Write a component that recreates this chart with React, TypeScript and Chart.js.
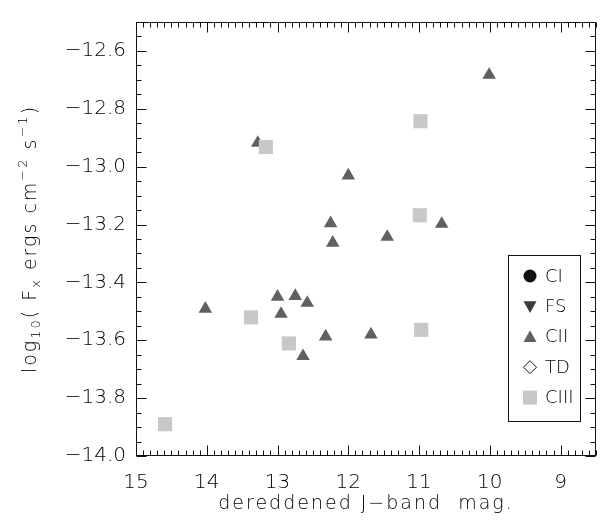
import React, { useEffect, useRef } from 'react';
import { Chart, registerables } from 'chart.js';

Chart.register(...registerables);

// ---- data ----
const SERIES_LABELS = ['CI', 'FS', 'CII', 'TD', 'CIII'];

const CI_MAG: number[] = [];
const CI_FX: number[] = [];
const FS_MAG: number[] = [];
const FS_FX: number[] = [];
const TD_MAG: number[] = [];
const TD_FX: number[] = [];

const CII_MAG = [10.01, 13.28, 12.0, 12.25, 10.68, 11.45, 12.22, 14.02, 13.0, 12.75, 12.58, 12.95, 12.32, 12.64, 11.68];
const CII_FX = [-12.683, -12.918, -13.031, -13.196, -13.198, -13.243, -13.263, -13.491, -13.45, -13.447, -13.471, -13.509, -13.587, -13.655, -13.58];

const CIII_MAG = [10.98, 13.165, 10.99, 13.375, 12.84, 10.97, 14.59];
const CIII_FX = [-12.843, -12.932, -13.168, -13.521, -13.611, -13.564, -13.89];

const X_TICKS = [15, 14, 13, 12, 11, 10, 9];
const Y_TICKS = [-14.0, -13.8, -13.6, -13.4, -13.2, -13.0, -12.8, -12.6];
const X_MIN = 8.5;
const X_MAX = 15;
const Y_MIN = -14.0;
const Y_MAX = -12.5;

const X_TITLE = 'dereddened J\u2212band  mag.';
// y title pieces: [text, kind] where kind: n = normal, sub = subscript, sup = superscript
const Y_TITLE_PARTS: [string, string][] = [
  ['log', 'n'], ['10', 'sub'], ['( F', 'n'], ['x', 'sub'], [' ergs cm', 'n'],
  ['\u22122', 'sup'], [' s', 'n'], ['\u22121', 'sup'], [')', 'n'],
];

const FONT_FAMILY = '"DejaVu Sans", sans-serif';
const WEIGHT = '200';
const INK = '#000';

const toPoints = (xs: number[], ys: number[]) => xs.map((x, i) => ({ x, y: ys[i] }));

// ---- plugins ----
const framePlugin = {
  id: 'frameTicks',
  afterDatasetsDraw(chart: any) {
    const { ctx, chartArea } = chart;
    const xs = chart.scales.x;
    const ys = chart.scales.y;
    const L = Math.round(chartArea.left) + 0.5;
    const R = Math.round(chartArea.right) - 0.5;
    const T = Math.round(chartArea.top) + 0.5;
    const B = Math.round(chartArea.bottom) - 0.5;
    ctx.save();
    ctx.strokeStyle = '#111';
    ctx.lineWidth = 1;
    ctx.strokeRect(L, T, R - L, B - T);
    ctx.beginPath();
    for (let i = Math.ceil(X_MIN * 10); i <= X_MAX * 10; i++) {
      const px = Math.round(xs.getPixelForValue(i / 10)) + 0.5;
      const len = i % 10 === 0 ? 10 : 5;
      ctx.moveTo(px, B);
      ctx.lineTo(px, B - len);
      ctx.moveTo(px, T);
      ctx.lineTo(px, T + len);
    }
    for (let i = Math.round(Y_MIN * 20); i <= Math.round(Y_MAX * 20); i++) {
      const py = Math.round(ys.getPixelForValue(i / 20)) + 0.5;
      const len = i % 4 === 0 ? 10 : 5;
      ctx.moveTo(L, py);
      ctx.lineTo(L + len, py);
      ctx.moveTo(R, py);
      ctx.lineTo(R - len, py);
    }
    ctx.stroke();
    ctx.restore();
  },
};

const titlesPlugin = {
  id: 'axisTitles',
  afterDraw(chart: any) {
    const { ctx, chartArea } = chart;
    ctx.save();
    ctx.fillStyle = INK;
    (ctx as any).letterSpacing = '2px';
    ctx.textBaseline = 'alphabetic';
    ctx.textAlign = 'left';
    // x title
    ctx.font = `${WEIGHT} 19px ${FONT_FAMILY}`;
    const cx = (chartArea.left + chartArea.right) / 2;
    const w = ctx.measureText(X_TITLE).width;
    ctx.fillText(X_TITLE, cx - w / 2, 509);
    // y title (rotated)
    const big = 19, small = 13;
    const fontOf = (k: string) => `${WEIGHT} ${k === 'n' ? big : small}px ${FONT_FAMILY}`;
    let total = 0;
    const widths = Y_TITLE_PARTS.map(([t, k]) => {
      ctx.font = fontOf(k);
      const ww = ctx.measureText(t).width;
      total += ww;
      return ww;
    });
    const cy = (chartArea.top + chartArea.bottom) / 2;
    ctx.translate(36, cy);
    ctx.rotate(-Math.PI / 2);
    let x = -total / 2;
    Y_TITLE_PARTS.forEach(([t, k], i) => {
      ctx.font = fontOf(k);
      const dy = k === 'sub' ? 4 : k === 'sup' ? -9 : 0;
      ctx.fillText(t, x, dy);
      x += widths[i];
    });
    ctx.restore();
  },
};

function drawMarker(ctx: CanvasRenderingContext2D, ds: any, x: number, y: number) {
  const s = ds.legendSize as number;
  ctx.save();
  ctx.fillStyle = ds.backgroundColor;
  ctx.strokeStyle = ds.borderColor;
  ctx.lineWidth = 1;
  ctx.beginPath();
  if (ds.pointStyle === 'circle') {
    ctx.arc(x, y, s, 0, Math.PI * 2);
    ctx.fill();
  } else if (ds.pointStyle === 'triangle') {
    const dir = ds.rotation === 180 ? -1 : 1;
    ctx.moveTo(x, y - dir * s);
    ctx.lineTo(x + s, y + dir * s * 0.8);
    ctx.lineTo(x - s, y + dir * s * 0.8);
    ctx.closePath();
    ctx.fill();
  } else if (ds.pointStyle === 'rectRot') {
    ctx.moveTo(x, y - s);
    ctx.lineTo(x + s, y);
    ctx.lineTo(x, y + s);
    ctx.lineTo(x - s, y);
    ctx.closePath();
    ctx.stroke();
  } else {
    ctx.rect(x - s, y - s, 2 * s, 2 * s);
    ctx.fill();
  }
  ctx.restore();
}

const legendPlugin = {
  id: 'boxLegend',
  afterDraw(chart: any) {
    const { ctx } = chart;
    const bx = 508.5, by = 255.5, bw = 72, bh = 166;
    ctx.save();
    ctx.fillStyle = '#fff';
    ctx.fillRect(bx, by, bw, bh);
    ctx.strokeStyle = '#111';
    ctx.lineWidth = 1;
    ctx.strokeRect(bx, by, bw, bh);
    chart.data.datasets.forEach((ds: any, i: number) => {
      const y = 276 + i * 30.4;
      drawMarker(ctx, ds, 530, y);
      ctx.fillStyle = INK;
      ctx.font = `${WEIGHT} 18px ${FONT_FAMILY}`;
      ctx.textAlign = 'left';
      ctx.textBaseline = 'middle';
      ctx.fillText(ds.label, 545, y + 1);
    });
    ctx.restore();
  },
};

const fmt = (v: number) => v.toFixed(1).replace('-', '\u2212');

export default function App() {
  const ref = useRef<HTMLCanvasElement | null>(null);

  useEffect(() => {
    if (!ref.current) return;
    const chart = new Chart(ref.current, {
      type: 'scatter',
      data: {
        datasets: [
          { label: SERIES_LABELS[0], data: toPoints(CI_MAG, CI_FX), pointStyle: 'circle', backgroundColor: '#111', borderColor: '#111', pointRadius: 7, borderWidth: 0, legendSize: 6.5, order: 1 } as any,
          { label: SERIES_LABELS[1], data: toPoints(FS_MAG, FS_FX), pointStyle: 'triangle', rotation: 180, backgroundColor: '#3c3c3c', borderColor: '#3c3c3c', pointRadius: 7.5, borderWidth: 0, legendSize: 6.5, order: 1 } as any,
          { label: SERIES_LABELS[2], data: toPoints(CII_MAG, CII_FX), pointStyle: 'triangle', backgroundColor: '#606060', borderColor: '#606060', pointRadius: 7.8, borderWidth: 0, legendSize: 6.5, order: 1 } as any,
          { label: SERIES_LABELS[3], data: toPoints(TD_MAG, TD_FX), pointStyle: 'rectRot', backgroundColor: 'rgba(0,0,0,0)', borderColor: '#111', pointRadius: 7, borderWidth: 1, legendSize: 6.5, order: 1 } as any,
          { label: SERIES_LABELS[4], data: toPoints(CIII_MAG, CIII_FX), pointStyle: 'rect', backgroundColor: '#c8c8c8', borderColor: '#c8c8c8', pointRadius: 10, borderWidth: 0, legendSize: 7, order: 0 } as any,
        ],
      },
      options: {
        responsive: false,
        animation: false,
        events: [],
        layout: { padding: { top: 5, right: 6, left: 0, bottom: 0 } },
        plugins: {
          legend: { display: false },
          tooltip: { enabled: false },
        },
        scales: {
          x: {
            type: 'linear',
            position: 'bottom',
            min: X_MIN,
            max: X_MAX,
            reverse: true,
            grid: { display: false, drawTicks: false },
            border: { display: false },
            afterBuildTicks: (s: any) => { s.ticks = X_TICKS.map((v) => ({ value: v })); },
            afterFit: (s: any) => { s.height = 70; },
            ticks: {
              autoSkip: false,
              maxRotation: 0,
              padding: 15,
              color: INK,
              font: { family: FONT_FAMILY, size: 20, weight: WEIGHT },
              callback: (v: any) => String(v),
            },
            title: { display: false },
          },
          y: {
            type: 'linear',
            position: 'left',
            min: Y_MIN,
            max: Y_MAX,
            grid: { display: false, drawTicks: false },
            border: { display: false },
            afterBuildTicks: (s: any) => { s.ticks = Y_TICKS.map((v) => ({ value: v })); },
            afterFit: (s: any) => { s.width = 136; },
            ticks: {
              autoSkip: false,
              padding: 10,
              color: INK,
              font: { family: FONT_FAMILY, size: 20, weight: WEIGHT },
              callback: (v: any) => fmt(Number(v)),
            },
            title: { display: false },
          },
        },
      } as any,
      plugins: [framePlugin, titlesPlugin, legendPlugin],
    });
    return () => chart.destroy();
  }, []);

  return (
    <div style={{ position: 'fixed', left: 0, top: 0, width: 606, height: 526, background: '#fff' }}>
      <canvas ref={ref} width={606} height={526} style={{ display: 'block', width: 606, height: 526 }} />
    </div>
  );
}
